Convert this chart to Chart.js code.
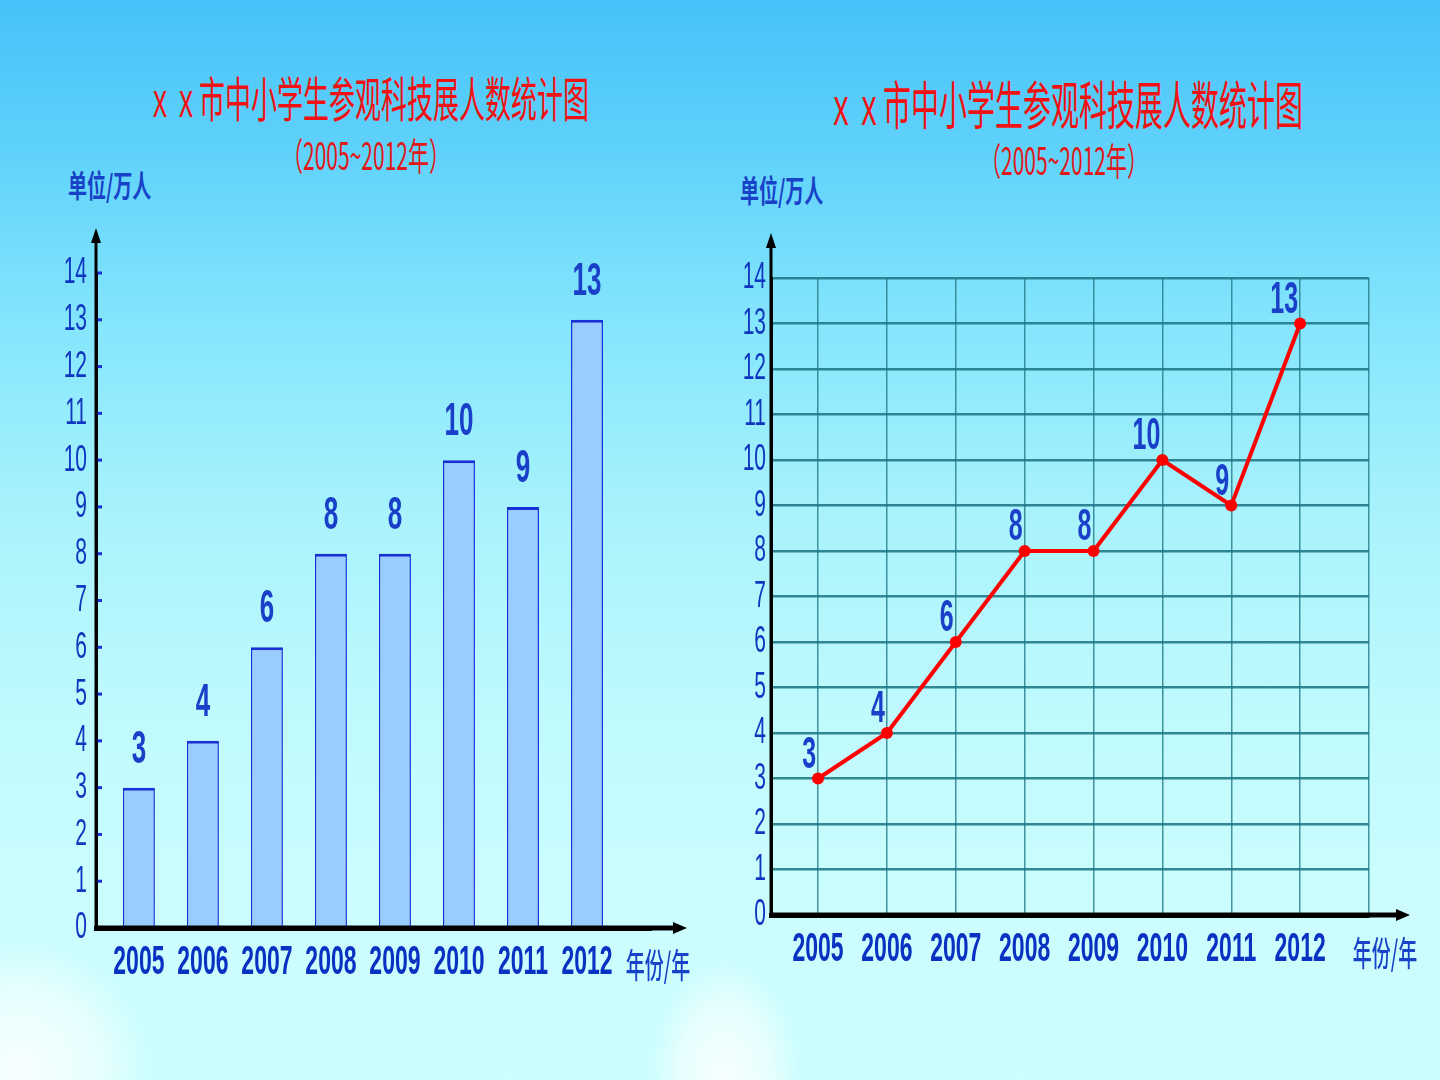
<!DOCTYPE html>
<html>
<head>
<meta charset="utf-8">
<script src="https://cdn.jsdelivr.net/npm/chart.js@4.4.1/dist/chart.umd.min.js"></script>
<style>
  body {
    margin: 0;
    width: 1440px;
    height: 1080px;
    overflow: hidden;
    position: relative;
    background: linear-gradient(180deg, #47c1f8 0px, #5fd2fb 150px, #86e6fc 330px, #a9f3fc 520px, #c0fafd 720px, #cbfdfe 900px, #cdfefe 1080px);
  }
  .cloud { position: absolute; border-radius: 50%; background: radial-gradient(ellipse at center, rgba(255,255,255,0.85) 0%, rgba(255,255,255,0.5) 45%, rgba(255,255,255,0) 70%); }
  .txt { position: absolute; white-space: nowrap; font-family: "Noto Sans CJK SC", sans-serif; line-height: 1; text-spacing-trim: space-all; }
  .title { color: #f01212; transform: translate(-50%, -50%) scaleY(1.85); }
  .sub { color: #e01818; font-size: 21px; transform: translate(-50%, -50%) scaleY(1.8); }
  .unit { color: #1842c8; font-size: 19px; font-weight: bold; transform: translate(0, -50%) scaleY(1.6); }
  canvas { position: absolute; }
</style>
</head>
<body>
<div class="cloud" style="left:-110px; top:940px; width:260px; height:260px;"></div>
<div class="cloud" style="left:650px; top:960px; width:150px; height:240px;"></div>

<div class="txt title" style="left:368px; top:97px; font-size:26px;">ｘｘ市中小学生参观科技展人数统计图</div>
<div class="txt sub" style="left:366px; top:155px;">（2005~2012年）</div>
<div class="txt unit" style="left:68px; top:183px;">单位/万人</div>

<div class="txt title" style="left:1065px; top:103px; font-size:28px;">ｘｘ市中小学生参观科技展人数统计图</div>
<div class="txt sub" style="left:1064px; top:160px;">（2005~2012年）</div>
<div class="txt unit" style="left:740px; top:188px;">单位/万人</div>

<canvas id="barChart" width="660" height="800" style="left:40px; top:200px;"></canvas>
<canvas id="lineChart" width="725" height="800" style="left:715px; top:200px;"></canvas>

<script>
// 数据
const years = [2005, 2006, 2007, 2008, 2009, 2010, 2011, 2012];
const visitors = [3, 4, 6, 8, 8, 10, 9, 13];
const yTickValues = [0, 1, 2, 3, 4, 5, 6, 7, 8, 9, 10, 11, 12, 13, 14];
const gridYears = [2005, 2006, 2007, 2008, 2009, 2010, 2011, 2012, 2013];
const xUnit = '年份/年';

const NUM_FONT = "'Liberation Sans Narrow', 'Liberation Sans', sans-serif";
const CJK_FONT = "'Noto Sans CJK SC', sans-serif";

const points = years.map((y, i) => ({ x: y, y: visitors[i] }));

// 文字纵向拉伸 + 数值标签 + 坐标轴箭头
const decor = {
  id: 'decor',
  beforeDraw(chart, args, o) {
    const k = o.stretch;
    const base = CanvasRenderingContext2D.prototype.fillText;
    chart.ctx.fillText = function (t, x, y, w) {
      this.save();
      this.translate(x, y);
      this.scale(1, k);
      if (w === undefined) base.call(this, t, 0, 0);
      else base.call(this, t, 0, 0, w);
      this.restore();
    };
  },
  afterDatasetsDraw(chart, args, o) {
    const ctx = chart.ctx;
    const meta = chart.getDatasetMeta(0);
    const data = chart.data.datasets[0].data;
    ctx.save();
    ctx.fillStyle = '#1a3fc8';
    ctx.font = o.labelFont;
    ctx.textAlign = o.labelAlign;
    ctx.textBaseline = 'middle';
    meta.data.forEach((el, i) => {
      ctx.fillText(String(data[i].y), el.x + o.labelDx, el.y + o.labelDy);
    });
    ctx.restore();
  },
  afterDraw(chart, args, o) {
    const ctx = chart.ctx;
    const a = chart.chartArea;
    const ys = chart.scales.y;
    ctx.save();
    if (o.tickMarks) {
      ctx.strokeStyle = '#1a2fd6';
      ctx.lineWidth = 3;
      ys.ticks.forEach(t => {
        if (t.value === 0) return;
        const py = ys.getPixelForValue(t.value);
        ctx.beginPath();
        ctx.moveTo(a.left + 1, py);
        ctx.lineTo(a.left + 6, py);
        ctx.stroke();
      });
    }
    ctx.strokeStyle = '#000';
    ctx.fillStyle = '#000';
    // y 轴延长 + 箭头
    const topY = a.top - o.extY;
    ctx.lineWidth = 3;
    ctx.beginPath();
    ctx.moveTo(a.left, a.bottom);
    ctx.lineTo(a.left, topY + 10);
    ctx.stroke();
    ctx.beginPath();
    ctx.moveTo(a.left, topY);
    ctx.lineTo(a.left - 5, topY + 15);
    ctx.lineTo(a.left + 5, topY + 15);
    ctx.closePath();
    ctx.fill();
    // x 轴延长 + 箭头
    const endX = a.right + o.extX;
    ctx.lineWidth = 5;
    ctx.beginPath();
    ctx.moveTo(a.left, a.bottom);
    ctx.lineTo(endX - 10, a.bottom);
    ctx.stroke();
    ctx.beginPath();
    ctx.moveTo(endX, a.bottom);
    ctx.lineTo(endX - 14, a.bottom - 6);
    ctx.lineTo(endX - 14, a.bottom + 6);
    ctx.closePath();
    ctx.fill();
    // 横轴单位
    ctx.fillStyle = '#1842c8';
    ctx.font = '500 19px ' + CJK_FONT;
    ctx.textAlign = 'center';
    ctx.textBaseline = 'middle';
    ctx.fillText(xUnit, a.right + o.unitDx, a.bottom + o.unitDy);
    ctx.restore();
    delete ctx.fillText;
  }
};

function yScale(width, pad, showGrid) {
  return {
    type: 'linear',
    min: 0,
    max: 14,
    afterFit: s => { s.width = width; },
    afterBuildTicks: s => { s.ticks = yTickValues.map(v => ({ value: v })); },
    border: { display: true, color: '#000', width: 3 },
    grid: showGrid
      ? { display: true, drawTicks: false, color: 'rgba(30,118,134,0.88)', lineWidth: 2.5 }
      : { display: false, drawTicks: false },
    ticks: {
      padding: pad,
      color: '#0f36c0',
      font: { family: NUM_FONT, size: 21 },
      callback: v => String(v)
    }
  };
}

function xScale(min, max, tickYears, height, showGrid) {
  return {
    type: 'linear',
    min: min,
    max: max,
    offset: false,
    afterFit: s => { s.height = height; },
    afterBuildTicks: s => { s.ticks = tickYears.map(v => ({ value: v })); },
    border: { display: true, color: '#000', width: 5 },
    grid: showGrid
      ? { display: true, offset: false, drawTicks: false, color: 'rgba(40,128,142,0.85)', lineWidth: 1.5 }
      : { display: false, offset: false, drawTicks: false },
    ticks: {
      padding: 21,
      color: '#0a32c2',
      maxRotation: 0,
      autoSkip: false,
      font: { family: NUM_FONT, size: 23, weight: 'bold' },
      callback: v => (v > 2012 ? '' : String(v))
    }
  };
}

// 条形统计图
new Chart(document.getElementById('barChart'), {
  type: 'bar',
  data: {
    datasets: [{
      data: points,
      backgroundColor: '#99ccff',
      borderColor: '#1a2fd6',
      borderWidth: { top: 3, left: 1.5, right: 1.5, bottom: 0 },
      borderSkipped: 'start',
      barPercentage: 0.5,
      categoryPercentage: 1
    }]
  },
  options: {
    responsive: false,
    animation: false,
    layout: { padding: { top: 73, right: 49, left: 0, bottom: 0 } },
    scales: {
      x: xScale(2004.33, 2013, years, 72, false),
      y: yScale(56, 9, false)
    },
    plugins: {
      legend: { display: false },
      tooltip: { enabled: false },
      decor: {
        stretch: 1.8,
        labelFont: 'bold 26px ' + NUM_FONT,
        labelAlign: 'center',
        labelDx: 0,
        labelDy: -38,
        tickMarks: true,
        extY: 45,
        extX: 36,
        unitDx: 7,
        unitDy: 37
      }
    }
  },
  plugins: [decor]
});

// 折线统计图
new Chart(document.getElementById('lineChart'), {
  type: 'line',
  data: {
    datasets: [{
      data: points,
      borderColor: '#ff0000',
      borderWidth: 4,
      tension: 0,
      pointRadius: 6,
      pointBackgroundColor: '#ff0000',
      pointBorderWidth: 0
    }]
  },
  options: {
    responsive: false,
    animation: false,
    layout: { padding: { top: 78, right: 71, left: 0, bottom: 0 } },
    scales: {
      x: xScale(2004.317, 2013, gridYears, 85, true),
      y: yScale(56, 5, true)
    },
    plugins: {
      legend: { display: false },
      tooltip: { enabled: false },
      decor: {
        stretch: 1.8,
        labelFont: 'bold 25px ' + NUM_FONT,
        labelAlign: 'right',
        labelDx: -2,
        labelDy: -23,
        tickMarks: false,
        extY: 45,
        extX: 41,
        unitDx: 16,
        unitDy: 38
      }
    }
  },
  plugins: [decor]
});
</script>
</body>
</html>
